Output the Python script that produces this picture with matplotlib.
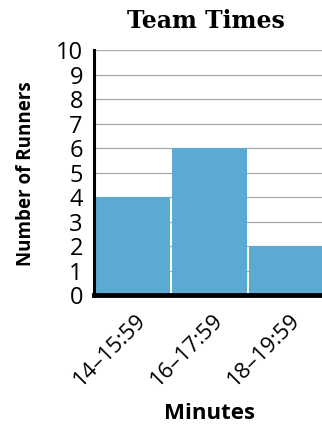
import matplotlib
matplotlib.use("Agg")
import matplotlib.pyplot as plt
from matplotlib.transforms import ScaledTranslation

# Data
categories = ["14\u201315:59", "16\u201317:59", "18\u201319:59"]
runners = [4, 6, 2]
y_ticks = list(range(0, 11))

fig = plt.figure(figsize=(3.22, 4.29), dpi=100)
ax = fig.add_axes([0.292, 0.312, 0.717, 0.571])

x = list(range(len(categories)))
ax.bar(x, runners, width=0.965, color="#5aaad4", zorder=2)

ax.set_xlim(-0.5, 2.5)
ax.set_ylim(0, 10)

# Horizontal guide lines
for yv in y_ticks[1:]:
    ax.axhline(yv, color="#a8a8a8", lw=0.9, zorder=1)

ax.set_yticks(y_ticks)
ax.set_yticklabels([str(v) for v in y_ticks], fontsize=17, family="Open Sans")
ax.tick_params(axis="y", length=0, pad=8)
ax.tick_params(axis="x", length=0, pad=2)

ax.set_xticks(x)
ax.set_xticklabels(categories, rotation=45, ha="right", rotation_mode="anchor",
                   fontsize=16, family="Open Sans")
for lbl in ax.get_xticklabels():
    lbl.set_transform(lbl.get_transform() + ScaledTranslation(0.03, -0.12, fig.dpi_scale_trans))

for s in ["top", "right"]:
    ax.spines[s].set_visible(False)
ax.spines["left"].set_linewidth(2.2)
ax.spines["bottom"].set_linewidth(3.5)
ax.spines["left"].set_zorder(3)
ax.spines["bottom"].set_zorder(3)

fig.text(0.64, 0.952, "Team Times", ha="center", va="center",
         fontsize=17, fontweight="bold", family="DejaVu Serif")
fig.text(0.08, 0.595, "Number of Runners", rotation=90, ha="center", va="center",
         fontsize=13.5, fontweight="bold", family="Open Sans")
fig.text(0.652, 0.035, "Minutes", ha="center", va="center",
         fontsize=16, fontweight="bold", family="Open Sans")

fig.savefig("out.png", dpi=100)
